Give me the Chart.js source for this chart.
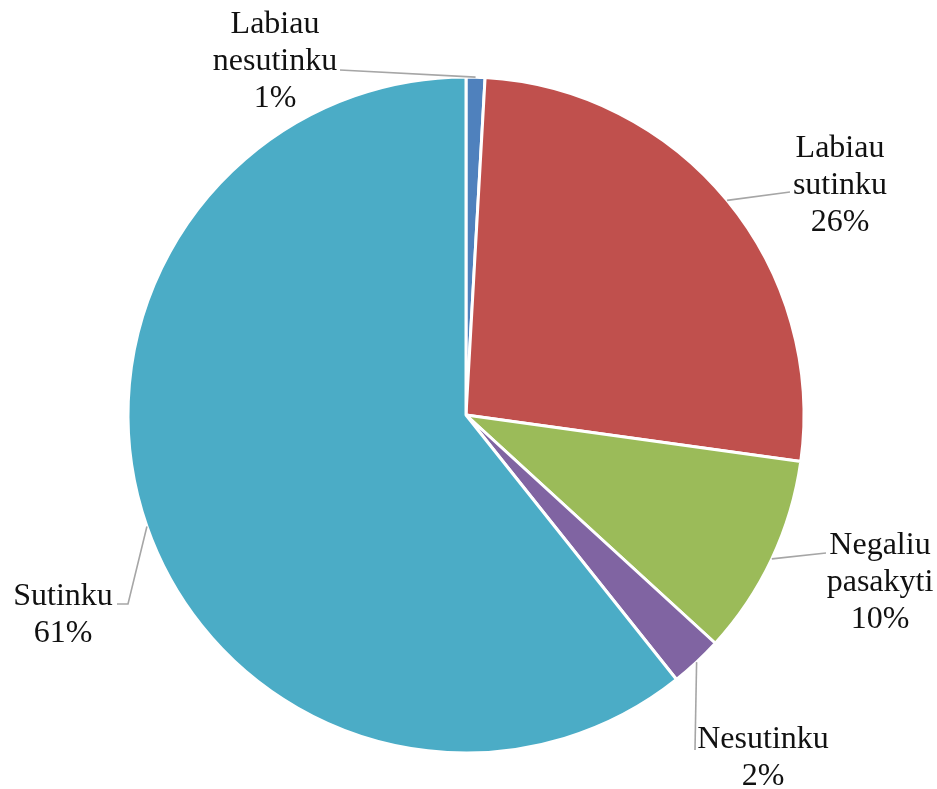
<!DOCTYPE html>
<html>
<head>
<meta charset="utf-8">
<script src="https://cdn.jsdelivr.net/npm/chart.js@4/dist/chart.umd.min.js"></script>
<style>
html,body{margin:0;padding:0;background:#fff;}
#wrap{width:937px;height:789px;position:relative;}
</style>
</head>
<body>
<div id="wrap"><canvas id="c" width="937" height="789"></canvas></div>
<script>
// Data
const categories = ["Labiau nesutinku", "Labiau sutinku", "Negaliu pasakyti", "Nesutinku", "Sutinku"];
const values = [0.9, 26.3, 9.6, 2.5, 60.7];
const percentLabels = ["1%", "26%", "10%", "2%", "61%"];
const labelLines = [["Labiau", "nesutinku"], ["Labiau", "sutinku"], ["Negaliu", "pasakyti"], ["Nesutinku"], ["Sutinku"]];

// Styles / layout
const colors = ["#4F81BD", "#C0504D", "#9BBB59", "#8064A2", "#4BACC6"];
const labelLayout = [
  {x: 275, base: 33, leader: [[340, 70]]},
  {x: 840, base: 157, leader: [[790, 192]]},
  {x: 880, base: 554, leader: [[826, 553]]},
  {x: 763, base: 748, leader: [[695, 750]]},
  {x: 63, base: 605, leader: [[128, 604], [117, 604]]}
];
const lineGap = 37;

const labelPlugin = {
  id: 'pieLabels',
  afterDatasetsDraw(chart) {
    const ctx = chart.ctx;
    const meta = chart.getDatasetMeta(0);
    ctx.save();
    meta.data.forEach((arc, i) => {
      const p = arc.getProps(['x', 'y', 'startAngle', 'endAngle', 'outerRadius'], true);
      const mid = (p.startAngle + p.endAngle) / 2;
      const sx = p.x + Math.cos(mid) * p.outerRadius;
      const sy = p.y + Math.sin(mid) * p.outerRadius;
      const L = labelLayout[i];
      ctx.strokeStyle = '#A6A6A6';
      ctx.lineWidth = 1.6;
      ctx.beginPath();
      ctx.moveTo(sx, sy);
      L.leader.forEach(pt => ctx.lineTo(pt[0], pt[1]));
      ctx.stroke();
      ctx.fillStyle = '#111';
      ctx.font = '32px "Liberation Serif", "Times New Roman", serif';
      ctx.textAlign = 'center';
      ctx.textBaseline = 'alphabetic';
      const lines = labelLines[i].concat([percentLabels[i]]);
      lines.forEach((t, k) => ctx.fillText(t, L.x, L.base + k * lineGap));
    });
    ctx.restore();
  }
};

new Chart(document.getElementById('c'), {
  type: 'pie',
  data: {
    labels: categories,
    datasets: [{
      data: values,
      backgroundColor: colors,
      borderColor: '#ffffff',
      borderWidth: 3,
      radius: 338
    }]
  },
  options: {
    responsive: false,
    animation: false,
    layout: {padding: {left: 128, right: 133, top: 77, bottom: 36}},
    plugins: {legend: {display: false}, tooltip: {enabled: false}}
  },
  plugins: [labelPlugin]
});
</script>
</body>
</html>
